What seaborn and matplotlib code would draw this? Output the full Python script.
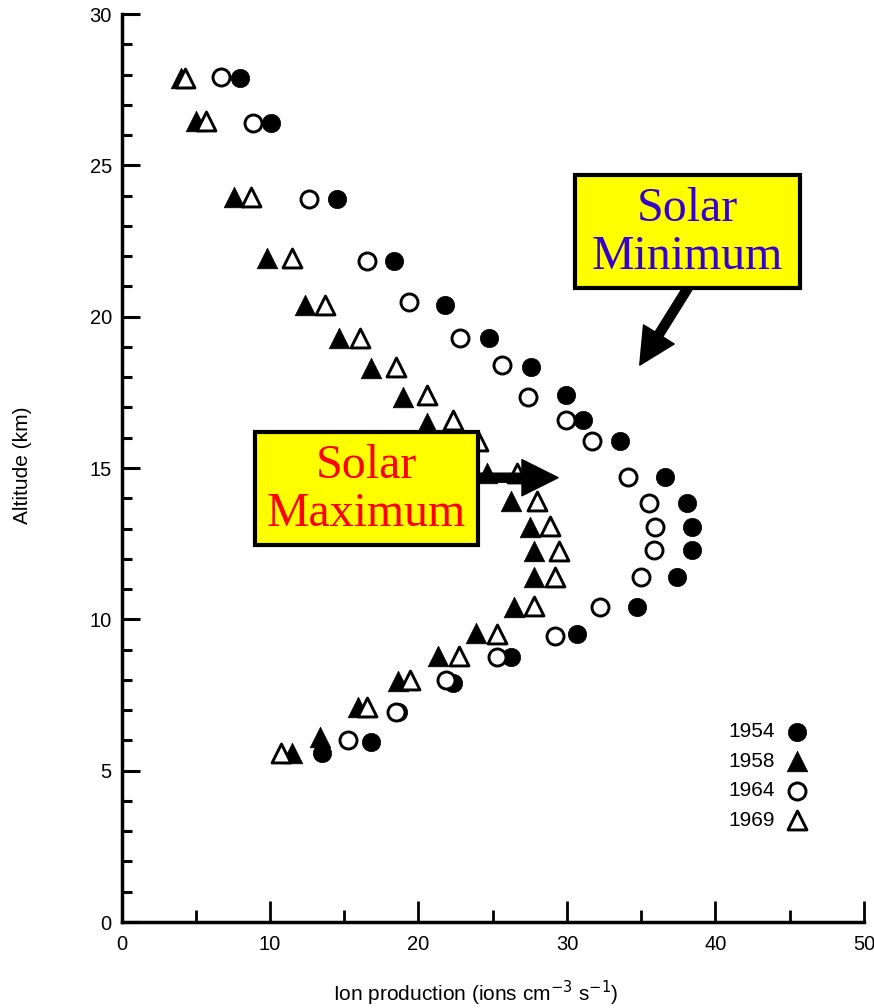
import numpy as np
import pandas as pd
import matplotlib
matplotlib.use("Agg")
import matplotlib.pyplot as plt
import seaborn as sns
from matplotlib.ticker import MultipleLocator
from matplotlib.patches import Rectangle

# ---------------- data ----------------
years = ["1954", "1958", "1964", "1969"]

ion_1954 = [8.0, 10.1, 14.5, 18.35, 21.8, 24.75, 27.6, 29.9, 31.1, 33.6, 36.6,
            38.1, 38.4, 38.4, 37.4, 34.7, 30.7, 26.2, 22.3, 18.6, 16.8, 13.5]
alt_1954 = [27.9, 26.4, 23.9, 21.85, 20.4, 19.3, 18.35, 17.4, 16.6, 15.9, 14.7,
            13.85, 13.05, 12.3, 11.4, 10.4, 9.5, 8.75, 7.9, 6.95, 5.95, 5.6]

ion_1958 = [4.0, 5.0, 7.6, 9.8, 12.35, 14.65, 16.8, 18.95, 20.6, 22.2, 24.6,
            26.2, 27.5, 27.8, 27.8, 26.4, 23.9, 21.3, 18.6, 15.95, 13.4, 11.5]
alt_1958 = [27.9, 26.45, 23.95, 21.95, 20.4, 19.3, 18.3, 17.35, 16.5, 15.9, 14.85,
            13.9, 13.05, 12.25, 11.4, 10.4, 9.55, 8.8, 7.95, 7.1, 6.1, 5.6]

ion_1964 = [6.7, 8.85, 12.6, 16.5, 19.35, 22.8, 25.6, 27.4, 29.9, 31.7, 34.1,
            35.5, 35.9, 35.85, 35.0, 32.2, 29.2, 25.3, 21.85, 18.5, 15.25]
alt_1964 = [27.93, 26.4, 23.9, 21.85, 20.5, 19.3, 18.4, 17.35, 16.6, 15.9, 14.7,
            13.85, 13.05, 12.3, 11.4, 10.4, 9.45, 8.75, 8.0, 6.95, 6.0]

ion_1969 = [4.3, 5.7, 8.7, 11.5, 13.7, 16.05, 18.5, 20.6, 22.3, 24.0, 26.6,
            28.0, 28.85, 29.45, 29.2, 27.8, 25.3, 22.75, 19.4, 16.5, 10.75]
alt_1969 = [27.9, 26.45, 23.95, 21.95, 20.4, 19.3, 18.35, 17.4, 16.6, 15.9, 14.85,
            13.9, 13.1, 12.25, 11.4, 10.45, 9.5, 8.8, 8.0, 7.1, 5.6]

xticks = [0, 10, 20, 30, 40, 50]
yticks = [0, 5, 10, 15, 20, 25, 30]

# ---------------- build long-form table ----------------
frames = []
for yr, xs, ys in zip(years, [ion_1954, ion_1958, ion_1964, ion_1969],
                      [alt_1954, alt_1958, alt_1964, alt_1969]):
    frames.append(pd.DataFrame({"ion": xs, "alt": ys, "year": yr}))
df = pd.concat(frames, ignore_index=True)

sns.set_theme(style="ticks")
plt.rcParams["font.family"] = ["Liberation Sans", "DejaVu Sans"]
for k in ["text.color", "axes.labelcolor", "xtick.color", "ytick.color",
          "axes.edgecolor"]:
    plt.rcParams[k] = "black"

fig = plt.figure(figsize=(8.74, 10.08), dpi=100)
ax = fig.add_axes([121.5 / 874, 86 / 1008, (864 - 121.5) / 874, 908 / 1008])

styles = {
    "1954": dict(marker="o", s=175, color="black", edgecolor="black", linewidth=0.5),
    "1958": dict(marker="^", s=220, color="black", edgecolor="black", linewidth=0.5),
    "1964": dict(marker="o", s=150, color="white", edgecolor="black", linewidth=2.1),
    "1969": dict(marker="^", s=185, color="white", edgecolor="black", linewidth=2.1),
}
for yr in years:
    sub = df[df["year"] == yr]
    sns.scatterplot(data=sub, x="ion", y="alt", ax=ax, label=yr, zorder=3,
                    **styles[yr])

ax.set_xlim(0, 50)
ax.set_ylim(0, 30)
ax.set_xticks(xticks)
ax.set_yticks(yticks)
ax.xaxis.set_minor_locator(MultipleLocator(5))
ax.yaxis.set_minor_locator(MultipleLocator(1))
ax.tick_params(axis="x", which="major", direction="in", length=15, width=2,
               labelsize=14.5, pad=9)
ax.tick_params(axis="x", which="minor", direction="in", length=9, width=2)
ax.tick_params(axis="y", which="major", direction="in", length=13, width=2.2,
               labelsize=14.5, pad=7)
ax.tick_params(axis="y", which="minor", direction="in", length=7, width=2.2)
for side in ["top", "right"]:
    ax.spines[side].set_visible(False)
for side in ["left", "bottom"]:
    ax.spines[side].set_linewidth(2.5)

ax.set_xlabel("Ion production (ions cm$^{-3}$ s$^{-1}$)", fontsize=15)
ax.set_ylabel("Altitude (km)", fontsize=15)
ax.xaxis.set_label_coords((476 - 121.5) / (864 - 121.5), -(979 - 922) / 908)
ax.yaxis.set_label_coords(-(121.5 - 32) / (864 - 121.5), (922 - 465) / 908)

# legend with markers on the right
handles, labels = ax.get_legend_handles_labels()
ax.legend(handles, labels, markerfirst=False, frameon=False, loc="center",
          bbox_to_anchor=((768 - 121.5) / (864 - 121.5), (922 - 776) / 908),
          fontsize=15, labelspacing=0.5, handlelength=1.0, handletextpad=0.6)

# annotation boxes (yellow callouts)
box_specs = [
    ("Solar\nMinimum", "#3300cc", 30.54, 20.96, 45.69, 24.69),
    ("Solar\nMaximum", "#ff0000", 8.99, 12.46, 24.0, 16.2),
]
for txt, col, x0, y0, x1, y1 in box_specs:
    ax.add_patch(Rectangle((x0, y0), x1 - x0, y1 - y0, facecolor="#ffff00",
                           edgecolor="black", linewidth=3, zorder=6))
    ax.text((x0 + x1) / 2, (y0 + y1) / 2 - 0.05, txt, ha="center", va="center",
            fontsize=34.5, family="Liberation Serif", color=col,
            linespacing=1.12, zorder=7)

arrow_kw = dict(width=6.5, headwidth=26, headlength=26, color="black", shrink=0)
ax.annotate("", xy=(34.9, 18.4), xytext=(38.14, 20.95),
            arrowprops=arrow_kw, zorder=5)
ax.annotate("", xy=(29.4, 14.68), xytext=(24.0, 14.68),
            arrowprops=arrow_kw, zorder=5)

fig.savefig("out.png", dpi=100)
